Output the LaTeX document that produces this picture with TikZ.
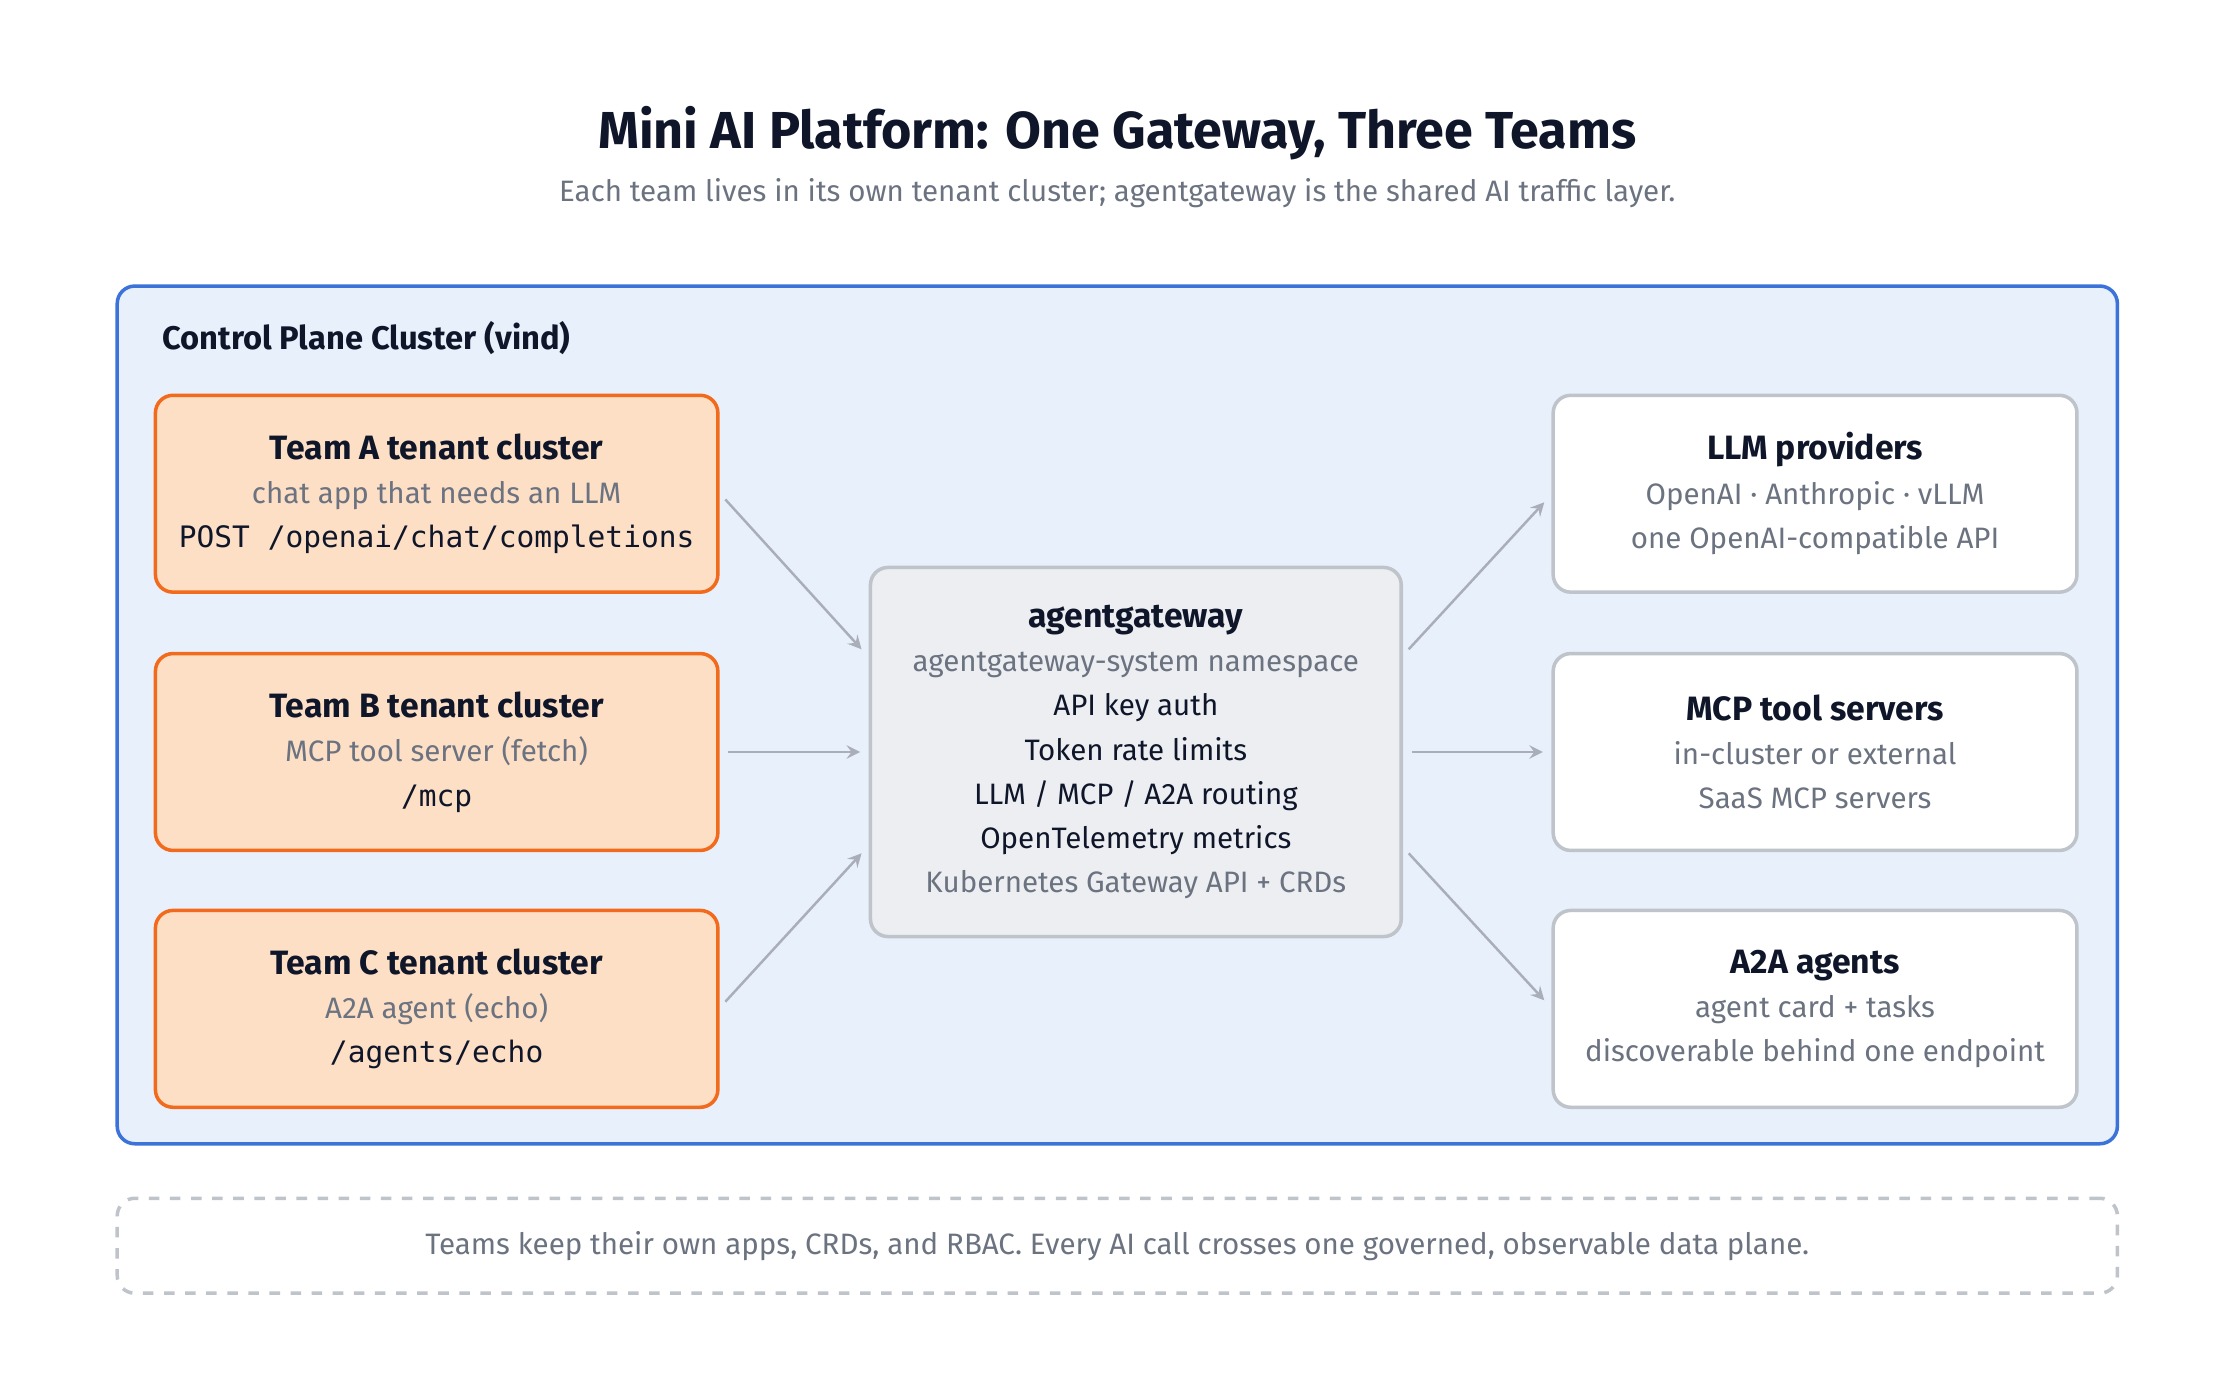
\documentclass[tikz,border=0pt]{standalone}
\usepackage{fontspec}
\setmainfont{Fira Sans}
\setmonofont{DejaVu Sans Mono}
\usetikzlibrary{positioning}
\definecolor{ink}{HTML}{0F1629}
\definecolor{muted}{HTML}{6B7280}
\definecolor{planefill}{HTML}{E8F0FC}
\definecolor{planedraw}{HTML}{3B73D9}
\definecolor{teamfill}{HTML}{FDDFC6}
\definecolor{teamdraw}{HTML}{F26B1D}
\definecolor{gwfill}{HTML}{ECEEF2}
\definecolor{boxdraw}{HTML}{BFC3CA}
\definecolor{arrowgray}{HTML}{A9AEB8}
\begin{document}
\begin{tikzpicture}[
    x=0.01427cm,
    y=-0.01427cm,
    font=\fontsize{8.4}{12.6}\selectfont,
    text=ink,
    box/.style={
        rectangle,
        rounded corners=5pt,
        line width=1pt,
        align=center,
        inner sep=0pt,
    },
    team/.style={
        box,
        fill=teamfill,
        draw=teamdraw,
        minimum width=160pt,
        minimum height=56pt,
    },
    target/.style={
        box,
        fill=white,
        draw=boxdraw,
        minimum width=149pt,
        minimum height=56pt,
    },
    arr/.style={
        ->,
        >=stealth,
        draw=arrowgray,
        line width=0.7pt,
    },
]
    \useasboundingbox (0,0) rectangle (1560,981);

    % title
    \node (title) at (783,93) {\fontsize{14.8}{16}\selectfont\bfseries Mini AI Platform: One Gateway, Three Teams};
    \node[text=muted] (subtitle) at (783,135) {Each team lives in its own tenant cluster; agentgateway is the shared AI traffic layer.};

    % control plane
    \node[box, fill=planefill, draw=planedraw, minimum width=569pt, minimum height=244pt] (plane) at (783,501) {};
    \node[anchor=west, font=\fontsize{9.3}{12}\selectfont\bfseries] (planelabel) at (105,237) {Control Plane Cluster (vind)};

    % teams
    \node[team] (tA) at (306,346) {{\bfseries\fontsize{9.6}{12.6}\selectfont Team A tenant cluster}\\
        \textcolor{muted}{chat app that needs an LLM}\\
        \texttt{POST /openai/chat/completions}};
    \node[team] (tB) at (306,527) {{\bfseries\fontsize{9.6}{12.6}\selectfont Team B tenant cluster}\\
        \textcolor{muted}{MCP tool server (fetch)}\\
        \texttt{/mcp}};
    \node[team] (tC) at (306,707) {{\bfseries\fontsize{9.6}{12.6}\selectfont Team C tenant cluster}\\
        \textcolor{muted}{A2A agent (echo)}\\
        \texttt{/agents/echo}};

    % gateway
    \node[box, fill=gwfill, draw=boxdraw, minimum width=151pt, minimum height=105pt] (gw) at (796,527) {{\bfseries\fontsize{9.6}{12.6}\selectfont agentgateway}\\
        \textcolor{muted}{agentgateway-system namespace}\\
        API key auth\\
        Token rate limits\\
        LLM / MCP / A2A routing\\
        OpenTelemetry metrics\\
        \textcolor{muted}{Kubernetes Gateway API + CRDs}};

    % targets
    \node[target] (llm) at (1272,346) {{\bfseries\fontsize{9.6}{12.6}\selectfont LLM providers}\\
        \textcolor{muted}{OpenAI · Anthropic · vLLM}\\
        \textcolor{muted}{one OpenAI-compatible API}};
    \node[target] (mcp) at (1272,527) {{\bfseries\fontsize{9.6}{12.6}\selectfont MCP tool servers}\\
        \textcolor{muted}{in-cluster or external}\\
        \textcolor{muted}{SaaS MCP servers}};
    \node[target] (a2a) at (1272,707) {{\bfseries\fontsize{9.6}{12.6}\selectfont A2A agents}\\
        \textcolor{muted}{agent card + tasks}\\
        \textcolor{muted}{discoverable behind one endpoint}};

    % arrows
    \draw[arr] ([shift={(4,4)}]tA.east) -- ([shift={(-5,-72)}]gw.west);
    \draw[arr] ([shift={(6,0)}]tB.east) -- ([shift={(-6,0)}]gw.west);
    \draw[arr] ([shift={(4,-5)}]tC.east) -- ([shift={(-5,71)}]gw.west);
    \draw[arr] ([shift={(4,-72)}]gw.east) -- ([shift={(-5,6)}]llm.west);
    \draw[arr] ([shift={(6,0)}]gw.east) -- ([shift={(-6,0)}]mcp.west);
    \draw[arr] ([shift={(4,71)}]gw.east) -- ([shift={(-5,-6)}]a2a.west);

    % footer
    \node[box, draw=boxdraw, dashed, minimum width=569pt, minimum height=27pt, text=muted] (note) at (783,873) {Teams keep their own apps, CRDs, and RBAC. Every AI call crosses one governed, observable data plane.};
\end{tikzpicture}
\end{document}
